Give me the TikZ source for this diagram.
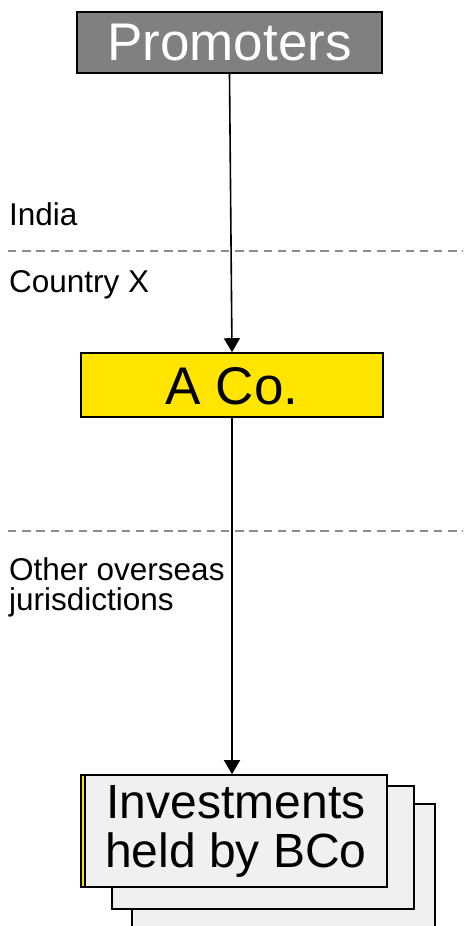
\documentclass[tikz,border=0pt]{standalone}
\usepackage{fontspec}
\setmainfont{Liberation Sans}
\usetikzlibrary{arrows.meta}
\definecolor{promgray}{HTML}{808080}
\definecolor{acoyellow}{HTML}{FFE500}
\definecolor{invgray}{HTML}{F0F0F0}
\definecolor{divgray}{HTML}{8C8C8C}
\tikzset{
  px/.style={x=1pt,y=-1pt},
  box/.style={draw=black,line width=1.6pt,inner sep=0pt,rectangle},
  conn/.style={draw=black,line width=1.6pt,-{Triangle[width=16pt,length=14pt]}},
  divider/.style={draw=divgray,line width=2pt,dash pattern=on 8.3pt off 5.9pt},
  region/.style={inner sep=0pt,anchor=base west,align=left,text=black,
                 font=\fontsize{31.5}{30}\selectfont}
}
\begin{document}
\begin{tikzpicture}[px]
\useasboundingbox (0,0) rectangle (463,926);
\clip (0,0) rectangle (463,926);
\fill[white] (0,0) rectangle (463,926);

% jurisdiction dividers
\draw[divider] (8,251) -- (463,251);
\draw[divider] (8,531) -- (463,531);

% region labels (base anchor sits on the last line)
\node[region] (india) at (9,225) {India};
\node[region] (ctryx) at (9,292) {Country X};
\node[region] (other) at (9,610) {Other overseas\\jurisdictions};

% entities
\node[box,fill=promgray,text=white,minimum width=305pt,minimum height=61pt,
      font=\fontsize{53}{53}\selectfont,text height=35pt,text depth=0pt] (prom) at (229.5,42.5) {Promoters};
\node[box,fill=acoyellow,minimum width=302pt,minimum height=64pt,
      font=\fontsize{53}{53}\selectfont,text height=38pt,text depth=0pt] (aco) at (232,385) {A Co.};

% stacked investment boxes
\node[box,fill=invgray,minimum width=303pt,minimum height=130pt] (inv3) at (283.5,869) {};
\node[box,fill=invgray,minimum width=302pt,minimum height=123pt] (inv2) at (263,847.5) {};
\node[box,fill=acoyellow,minimum width=302pt,minimum height=112pt] (invy) at (232,831) {};
\node[box,fill=invgray,minimum width=302pt,minimum height=112pt,align=center,
      font=\fontsize{48}{49}\selectfont] (inv) at (236,831) {Investments\\held by BCo};

% ownership links
\draw[conn] (prom.south) -- (aco.north);
\draw[conn] (aco.south) -- (invy.north);
\end{tikzpicture}
\end{document}
